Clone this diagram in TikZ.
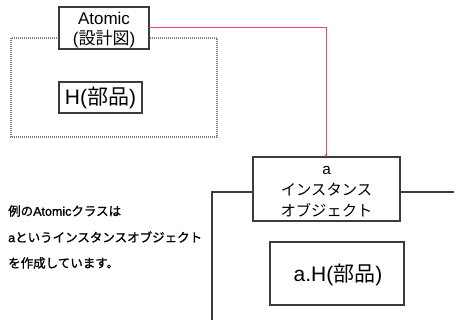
\documentclass[tikz,border=0pt]{standalone}
\usepackage{fontspec}
\setmainfont{Liberation Sans}
\newfontfamily\jp{Noto Sans CJK JP}
\newfontfamily\jpb[FakeBold=1.2]{Noto Sans CJK JP}
\newfontfamily\lsb[FakeBold=1.2]{Liberation Sans}
\usetikzlibrary{arrows.meta}
\definecolor{linkred}{RGB}{236,70,110}
\definecolor{boxgray}{RGB}{60,60,60}
\begin{document}
\begin{tikzpicture}[x=1pt,y=-1pt,
  box/.style={draw=boxgray,line width=1.2pt,inner sep=0pt},
  frame/.style={draw=boxgray,line width=1.2pt},
  dots/.style={draw=gray,line width=1.1pt,dash pattern=on 1pt off 1pt},
  link/.style={draw=linkred,line width=1pt,-{Stealth[length=3pt,width=3pt]}},
  lbl/.style={align=center,inner sep=0pt},
  big/.style={inner sep=0pt,font=\fontsize{21}{22}\selectfont},
  body/.style={anchor=west,inner sep=0pt,font=\fontsize{12.5}{15}\selectfont}]
\useasboundingbox (0,0) rectangle (454,320);
% dotted class frame
\draw[dots] (11,38) rectangle (217,137);
% Atomic box
\path[box,fill=white] (59,7) rectangle (149,49);
\node[lbl,font=\fontsize{17}{20}\selectfont] (atomic) at (104,30) {Atomic\\({\jp 設計図})};
\coordinate (atomicR) at (149,28);
% H box
\path[box] (59,82) rectangle (142,113);
\node[big] (h) at (100.5,98) {H({\jp 部品})};
% instance outer frame
\draw[frame] (212,320) -- (212,192) -- (253,192);
\draw[frame] (400,192) -- (454,192);
% instance box
\path[box] (253,157) rectangle (400,221);
\coordinate (instT) at (326,157);
\node[lbl,font=\fontsize{15.3}{21}\selectfont] (inst) at (326.5,192) {a\\{\jp インスタンス}\\{\jp オブジェクト}};
% a.H box
\path[box] (270,242) rectangle (404,305);
\node[big] (ah) at (338,275) {a.H({\jp 部品})};
% red connector
\draw[link] (atomicR) -- (326,28) -- (instT);
% explanation
\node[body] (t1) at (8,211) {{\jpb 例の}{\lsb Atomic}{\jpb クラスは}};
\node[body] (t2) at (8,237) {{\lsb a}{\jpb というインスタンスオブジェクト}};
\node[body] (t3) at (8,263) {{\jpb を作成しています。}};
\end{tikzpicture}
\end{document}
